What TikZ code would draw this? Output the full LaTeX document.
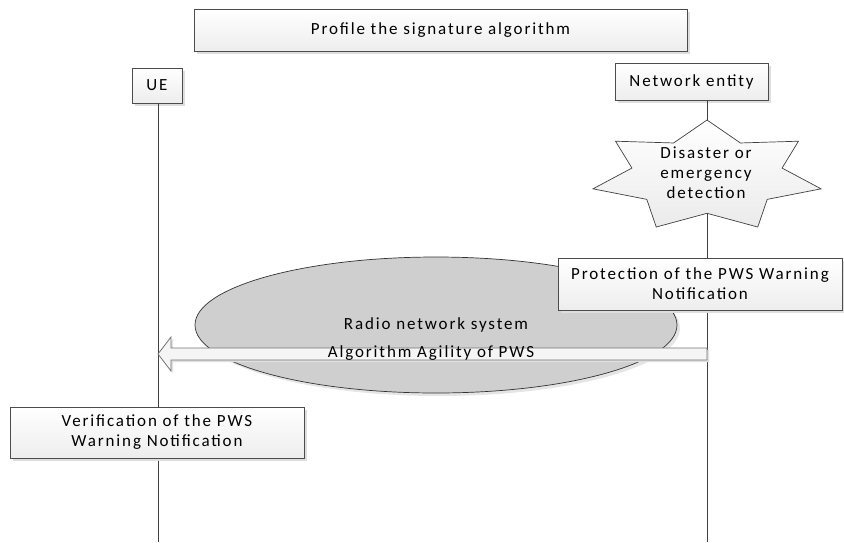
\documentclass[tikz,border=0pt]{standalone}
\usepackage{fontspec}
\setmainfont[LetterSpace=11]{Carlito}
\usepackage{tikz}
\usetikzlibrary{shapes.geometric,shadows,calc,positioning}

\begin{document}
\begin{tikzpicture}[x=1pt,y=-1pt,
    every node/.append style={font=\fontsize{17}{20}\selectfont, align=center},
    lifeline/.style={draw=black!75, line width=.8pt},
    box/.style={draw=black!70, line width=.7pt, top color=white, bottom color=black!7,
                inner sep=0pt, drop shadow={shadow xshift=3pt, shadow yshift=-3pt,
                fill=black!13, opacity=1}},
    cloud/.style={ellipse, draw=black!80, line width=.7pt, fill=black!19,
                  drop shadow={shadow xshift=3pt, shadow yshift=-3pt, fill=black!10, opacity=1}},
    blockarrow/.style={draw=black!55, line width=.8pt, fill=black!4,
                       drop shadow={shadow xshift=2pt, shadow yshift=-2pt, fill=black!12, opacity=1}},
    burst/.style={draw=black!75, line width=.7pt, top color=white, bottom color=black!8}]
    \useasboundingbox (0,0) rectangle (844,542);

    % actors
    \node[box, minimum width=493pt, minimum height=42pt] (profile) at (440.5,30) {Profile the signature algorithm};
    \node[box, minimum width=50pt, minimum height=35pt] (ue) at (157,85.5) {UE};
    \node[box, minimum width=153pt, minimum height=37pt] (ne) at (691.5,81.5) {Network entity};
    \coordinate (ne-x) at (707,0);
    \coordinate (ue-end) at (158,542);
    \coordinate (ne-end) at (707,542);

    % lifelines
    \draw[lifeline] (ue.south -| ue-end) -- (ue-end);
    \draw[lifeline] (ne.south -| ne-x) -- (ne-end);

    % radio network
    \node[cloud, minimum width=482pt, minimum height=136pt] (radio) at (436,325) {Radio network system};

    % message
    \coordinate (msg-start) at (707,354);
    \coordinate (msg-end) at (158,354);
    \draw[blockarrow] (msg-start) ++(0,-6) -- ($(msg-end)+(13,-6)$) -- ($(msg-end)+(13,-17)$)
        -- (msg-end) -- ($(msg-end)+(13,17)$) -- ($(msg-end)+(13,6)$) -- ($(msg-start)+(0,6)$) -- cycle;
    \node (agility) at (431,353) {Algorithm Agility of PWS};

    % event
    \draw[burst] plot[samples at={0,...,13}]
        ({707+ifthenelse(mod(\x,2)==0,117,77)*cos(90+\x*180/7)},
         {176.3-ifthenelse(mod(\x,2)==0,56.3,37)*sin(90+\x*180/7)}) -- cycle;
    \node (disaster) at (706,173) {Disaster or\\emergency\\detection};

    % security steps
    \node[box, minimum width=284pt, minimum height=52pt] (protect) at (700,284)
        {Protection of the PWS Warning\\Notification};
    \node[box, minimum width=294pt, minimum height=51pt] (verify) at (157,432.5)
        {Verification of the PWS\\Warning Notification};
\end{tikzpicture}
\end{document}
